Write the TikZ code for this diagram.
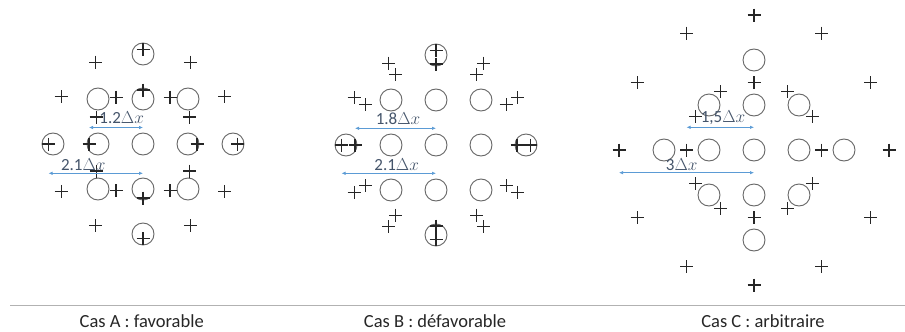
\documentclass[tikz,border=0pt]{standalone}
\usepackage{fontspec}
\setmainfont{Carlito}
\usepackage{xcolor}
\usepackage{tikz}
\usetikzlibrary{arrows.meta}

\definecolor{dimblue}{HTML}{5B9BD5}
\definecolor{labelblue}{HTML}{44546A}

\newcommand{\plusmark}[1]{\draw[pt] (#1) +(-6.5,0) -- +(6.5,0) +(0,-6.5) -- +(0,6.5);}

\begin{document}
\begin{tikzpicture}[x=1pt,y=-1pt,
  pt/.style={draw=black!85,line width=1.1pt},
  hole/.style={draw=black!60,line width=0.9pt},
  dim/.style={dimblue,line width=0.7pt,{Latex[length=4pt,width=3.5pt]}-{Latex[length=4pt,width=3.5pt]}},
  dimlabel/.style={text=labelblue,font=\fontsize{17}{20}\selectfont,inner sep=1pt,anchor=south},
  caption/.style={text=black!85,font=\fontsize{18.5}{22}\selectfont},
  sepline/.style={draw=black!30,line width=1.4pt}]
\useasboundingbox (0,0) rectangle (905,332);

\coordinate (ca) at (143,144);
\coordinate (cb) at (436,145);
\coordinate (cc) at (754,150);

% cas A
\foreach \i in {-1,0,1}
  \foreach \j in {-1,0,1}
    \draw[hole,shift={(ca)}] (45*\i,45*\j) circle[radius=11pt];
\foreach \a in {0,90,180,270}
  \draw[hole,shift={(ca)}] (\a:90) circle[radius=11pt];
\foreach \a in {0,30,...,330} {
  \begin{scope}[shift={(ca)}]
    \plusmark{\a:54}
    \plusmark{\a:94.5}
  \end{scope}
}

% cas B
\foreach \i in {-1,0,1}
  \foreach \j in {-1,0,1}
    \draw[hole,shift={(cb)}] (45*\i,45*\j) circle[radius=11pt];
\foreach \a in {0,90,180,270}
  \draw[hole,shift={(cb)}] (\a:90) circle[radius=11pt];
\foreach \a in {0,30,...,330} {
  \begin{scope}[shift={(cb)}]
    \plusmark{\a:81}
    \plusmark{\a:94.5}
  \end{scope}
}

% cas C
\foreach \i in {-1,0,1}
  \foreach \j in {-1,0,1}
    \draw[hole,shift={(cc)}] (45*\i,45*\j) circle[radius=11pt];
\foreach \a in {0,90,180,270}
  \draw[hole,shift={(cc)}] (\a:90) circle[radius=11pt];
\foreach \a in {0,30,...,330} {
  \begin{scope}[shift={(cc)}]
    \plusmark{\a:67.5}
    \plusmark{\a:135}
  \end{scope}
}

% cotes
\coordinate (a1l) at (89,127.5);   \coordinate (a1r) at (143,127.5);
\coordinate (a2l) at (48.5,173.3); \coordinate (a2r) at (143,173.3);
\coordinate (b1l) at (355,128.3);  \coordinate (b1r) at (436,128.3);
\coordinate (b2l) at (341.5,173.3);\coordinate (b2r) at (436,173.3);
\coordinate (c1l) at (686.5,127.3);\coordinate (c1r) at (754,127.3);
\coordinate (c2l) at (619,172.7);  \coordinate (c2r) at (754,172.7);
\draw[dim] (a1l) -- (a1r);
\draw[dim] (a2l) -- (a2r);
\draw[dim] (b1l) -- (b1r);
\draw[dim] (b2l) -- (b2r);
\draw[dim] (c1l) -- (c1r);
\draw[dim] (c2l) -- (c2r);
\node[dimlabel] (la1) at (121.7,125) {1.2$\Delta x$};
\node[dimlabel] (la2) at (83.3,172) {2.1$\Delta x$};
\node[dimlabel] (lb1) at (398,125.5) {1.8$\Delta x$};
\node[dimlabel] (lb2) at (396.7,172) {2.1$\Delta x$};
\node[dimlabel] (lc1) at (723,126) {1,5$\Delta x$};
\node[dimlabel] (lc2) at (681.7,172) {3$\Delta x$};

\coordinate (sepl) at (10,305.5);
\coordinate (sepr) at (905,305.5);
\draw[sepline] (sepl) -- (sepr);

\node[caption] (capa) at (141.7,321) {Cas A : favorable};
\node[caption] (capb) at (435,321) {Cas B : défavorable};
\node[caption] (capc) at (763,321) {Cas C : arbitraire};
\end{tikzpicture}
\end{document}
